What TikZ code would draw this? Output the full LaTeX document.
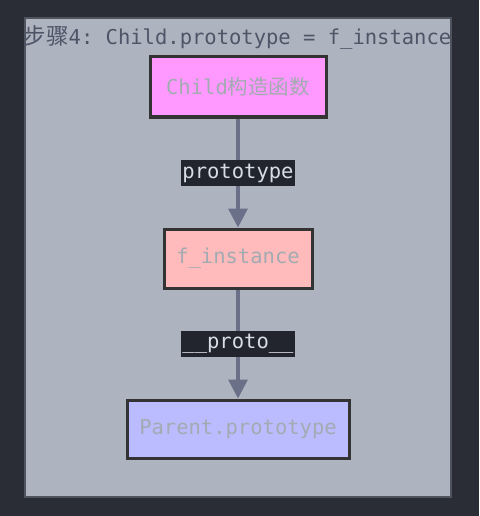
\documentclass[tikz,border=0pt]{standalone}
\usepackage{fontspec}
\setmonofont{DejaVu Sans Mono}
\newfontfamily\cjk{Noto Sans CJK SC}
\usetikzlibrary{arrows.meta}
\definecolor{bgdark}{HTML}{2A2C36}
\definecolor{clusterfill}{HTML}{AEB3C0}
\definecolor{clusterline}{HTML}{4F535E}
\definecolor{titlecol}{HTML}{4E5566}
\definecolor{boxline}{HTML}{333333}
\definecolor{nodetext}{HTML}{A3ABB2}
\definecolor{edgecol}{HTML}{6B7089}
\definecolor{labelbg}{HTML}{23252E}
\definecolor{labeltext}{HTML}{D8DDE8}
\definecolor{pinkfill}{HTML}{FF99FF}
\definecolor{salmonfill}{HTML}{FFBBBB}
\definecolor{bluefill}{HTML}{BBBBFF}
\tikzset{
  objbox/.style={draw=boxline, line width=3pt, inner sep=0pt, text=nodetext,
    font=\ttfamily\fontsize{20.5}{22}\selectfont},
  link/.style={draw=edgecol, line width=3.5pt, -{Triangle[width=19pt,length=19pt]}},
  linklabel/.style={fill=labelbg, text=labeltext, inner xsep=1pt, inner ysep=0pt,
    minimum height=26pt, font=\ttfamily\fontsize{20.5}{22}\selectfont}
}
\begin{document}
\begin{tikzpicture}[x=1pt,y=-1pt]
\fill[bgdark] (0,0) rectangle (479,516);
\useasboundingbox (0,0) rectangle (479,516);
\draw[fill=clusterfill, draw=clusterline, line width=1.5pt] (25,18) rectangle (451,497);
\node[text=titlecol, font=\ttfamily\fontsize{20.5}{22}\selectfont, inner sep=0pt] (title) at (237.5,37) {{\cjk\fontsize{22.5}{22}\selectfont 步骤}4: Child.prototype = f\_instance};
\node[objbox, fill=pinkfill, minimum width=176pt, minimum height=60pt] (child) at (238,87) {Child{\cjk 构造函数}};
\node[objbox, fill=salmonfill, minimum width=148pt, minimum height=59pt] (inst) at (238,258.5) {f\_instance};
\node[objbox, fill=bluefill, minimum width=222pt, minimum height=58pt] (parent) at (238,429) {Parent.prototype};
\draw[link] (child) -- node[linklabel] {prototype} (inst);
\draw[link] (inst) -- node[linklabel] {\_\_proto\_\_} (parent);
\end{tikzpicture}
\end{document}
